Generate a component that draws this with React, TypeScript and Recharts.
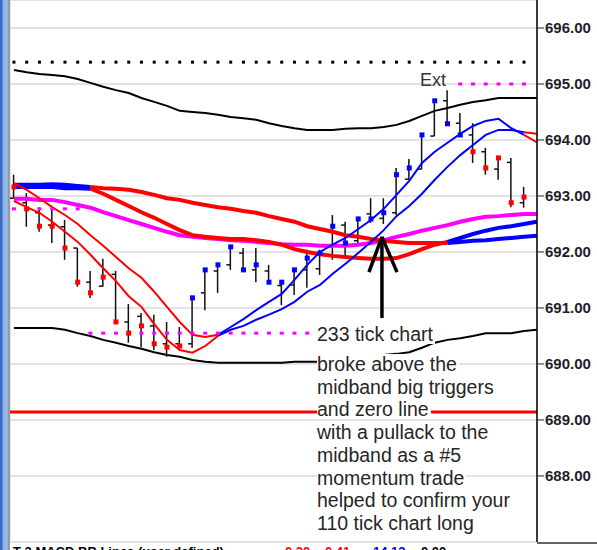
import React from "react";
import { ComposedChart, Line, Bar, Scatter, XAxis, YAxis, CartesianGrid, ReferenceLine } from "recharts";

const RED = "#ff0000";
const BLUE = "#0000ff";
const MAGENTA = "#ff00ff";
const FONT = '"Liberation Sans", Arial, sans-serif';

// bar index (categories)
const barIndex = [0,1,2,3,4,5,6,7,8,9,10,11,12,13,14,15,16,17,18,19,20,21,22,23,24,25,26,27,28,29,30,31,32,33,34,35,36,37,38,39,40,41];

// OHLC values
const barOpen = [692.96, 692.88, 692.70, 692.48, 692.45, 692.07, 691.46, 691.39, 691.60, 690.75, 690.85, 690.68, 690.36, 690.36, 690.36, 691.27, 691.66, 691.77, 691.98, 691.68, 691.66, 691.40, 691.41, 691.68, 691.70, 691.95, 692.48, 692.20, 692.68, 692.60, 692.70, 693.30, 693.48, 694.07, 694.70, 694.30, 694.09, 693.79, 693.48, 693.60, 692.88];
const barHigh = [693.38, 693.05, 692.80, 692.80, 692.57, 692.07, 691.66, 691.88, 691.66, 691.07, 690.91, 690.88, 690.75, 690.66, 691.18, 691.68, 691.77, 692.09, 692.07, 692.07, 691.77, 691.50, 691.68, 692.04, 692.04, 692.66, 692.54, 692.59, 692.96, 692.96, 693.50, 693.66, 694.09, 694.70, 694.89, 694.48, 694.30, 693.86, 693.68, 693.68, 693.16];
const barLow = [692.96, 692.45, 692.36, 692.16, 691.86, 691.38, 691.18, 691.38, 690.75, 690.38, 690.30, 690.25, 690.13, 690.29, 690.29, 690.96, 691.27, 691.68, 691.68, 691.46, 691.46, 691.05, 691.23, 691.36, 691.59, 691.86, 691.91, 692.13, 692.52, 692.50, 692.66, 693.29, 693.48, 694.07, 694.29, 694.09, 693.59, 693.38, 693.29, 692.80, 692.79];
const barClose = [693.16, 692.77, 692.46, 692.46, 692.07, 691.46, 691.27, 691.55, 690.75, 690.55, 690.68, 690.36, 690.30, 690.32, 691.18, 691.68, 691.77, 692.09, 691.68, 691.77, 691.46, 691.46, 691.68, 691.89, 691.98, 692.46, 692.16, 692.59, 692.59, 692.70, 693.38, 693.50, 694.09, 694.70, 694.29, 694.09, 693.79, 693.50, 693.68, 692.88, 692.98];
// +1 = up trend (blue), -1 = down trend (red)
const barTrend = [-1,-1,-1,-1,-1,-1,-1,-1,-1,-1,-1,-1,-1,-1,1,1,1,1,1,1,1,1,1,1,1,1,1,1,1,1,1,1,1,1,1,1,-1,-1,-1,-1,-1];

// indicator lines
const upperBand = [695.25, 695.21, 695.18, 695.16, 695.14, 695.09, 695.02, 694.95, 694.89, 694.84, 694.75, 694.68, 694.61, 694.52, 694.50, 694.48, 694.45, 694.41, 694.39, 694.36, 694.30, 694.25, 694.21, 694.18, 694.18, 694.18, 694.20, 694.21, 694.21, 694.23, 694.27, 694.34, 694.43, 694.52, 694.57, 694.63, 694.68, 694.71, 694.75, 694.75, 694.75, 694.75];
const lowerBand = [690.64, 690.64, 690.64, 690.64, 690.61, 690.55, 690.50, 690.43, 690.38, 690.32, 690.27, 690.21, 690.16, 690.13, 690.07, 690.04, 690.02, 690.02, 690.02, 690.02, 690.02, 690.02, 690.04, 690.04, 690.04, 690.05, 690.07, 690.09, 690.13, 690.16, 690.18, 690.21, 690.29, 690.38, 690.43, 690.46, 690.50, 690.55, 690.55, 690.55, 690.59, 690.61];
const slowMA = [693.20, 693.20, 693.20, 693.21, 693.20, 693.18, 693.16, 693.14, 693.13, 693.11, 693.07, 693.02, 692.96, 692.93, 692.88, 692.84, 692.80, 692.77, 692.73, 692.70, 692.64, 692.59, 692.54, 692.46, 692.41, 692.36, 692.30, 692.27, 692.23, 692.20, 692.18, 692.16, 692.16, 692.16, 692.16, 692.18, 692.20, 692.21, 692.23, 692.25, 692.27, 692.29];
const fastMA = [693.16, 693.16, 693.16, 693.16, 693.14, 693.14, 693.13, 693.04, 692.93, 692.82, 692.71, 692.61, 692.50, 692.39, 692.30, 692.27, 692.25, 692.23, 692.23, 692.21, 692.18, 692.13, 692.05, 692.00, 691.96, 691.93, 691.91, 691.89, 691.88, 691.88, 691.89, 691.96, 692.05, 692.13, 692.18, 692.25, 692.32, 692.38, 692.43, 692.46, 692.50, 692.54];
const midBand = [692.95, 692.95, 692.93, 692.93, 692.89, 692.84, 692.79, 692.71, 692.64, 692.57, 692.50, 692.43, 692.36, 692.30, 692.27, 692.25, 692.23, 692.21, 692.20, 692.18, 692.16, 692.14, 692.13, 692.13, 692.11, 692.11, 692.11, 692.13, 692.16, 692.21, 692.27, 692.32, 692.38, 692.43, 692.48, 692.54, 692.59, 692.63, 692.64, 692.66, 692.68, 692.68];
const trigger1 = [693.23, 693.11, 692.96, 692.80, 692.66, 692.50, 692.30, 692.11, 691.91, 691.71, 691.54, 691.29, 691.02, 690.75, 690.52, 690.48, 690.52, 690.66, 690.80, 690.96, 691.11, 691.25, 691.50, 691.77, 692.00, 692.13, 692.25, 692.41, 692.57, 692.77, 693.02, 693.27, 693.59, 693.79, 693.95, 694.11, 694.25, 694.34, 694.38, 694.21, 694.09, 693.96];
const trigger2 = [692.91, 692.80, 692.70, 692.54, 692.36, 692.18, 691.95, 691.71, 691.48, 691.21, 691.02, 690.71, 690.43, 690.25, 690.20, 690.32, 690.50, 690.61, 690.68, 690.79, 690.88, 690.98, 691.11, 691.29, 691.41, 691.61, 691.79, 691.98, 692.18, 692.39, 692.64, 692.82, 693.04, 693.29, 693.52, 693.73, 693.91, 694.09, 694.18, 694.18, 694.14, 694.11];

// colour-change points (bar indices)
const maBlueEnd = 6;
const maBlueStart = 34;
const trigRedEnd = 16;
const trigRedStart = 40;

// dotted levels
const topDotLevel = 695.39;
const topDotIdx = [0,1,2,3,4,5,6,7,8,9,10,11,12,13,14,15,16,17,18,19,20,21,22,23,24,25,26,27,28,29,30,31,32,33,34,35,36,37,38,39,40];
const extLevel = 695.0;
const extIdx = [35,36,37,38,39,40];
const magUpLevel = 692.77;
const magUpIdx = [0,1,2,3,4,5];
const magLowLevel = 690.55;
const magLowIdx = [6,7,8,9,10,11,12,13,14,15,16,17,18,19,20,21,22,23];
const zeroLine = 689.14;

const priceTicks = [688, 689, 690, 691, 692, 693, 694, 695, 696];
const gridTicks = [4, 9, 14, 19, 24, 29, 34, 39];

// annotation arrow (bar index / price)
const arrowTip = { x: 28.86, y: 692.27 };
const arrowBase = { x: 28.86, y: 690.82 };
const arrowWingL = { x: 27.84, y: 691.64 };
const arrowWingR = { x: 30.04, y: 691.64 };

const noteFirst = "233 tick chart";
const noteLines = ["broke above the", "midband big triggers", "and zero line", "with a pullack to the", "midband as a #5", "momentum trade", "helped to confirm your", "110 tick chart long"];

const seg = (arr: number[], from: number, to: number) => arr.map((v, i) => (i >= from && i <= to ? v : null));

const OhlcShape = (props: any) => {
  const { x, y, width, height, payload } = props;
  if (!payload || payload.hl == null || x == null) return null;
  const cx = x + width / 2;
  const top = Math.min(y, y + height);
  const bot = Math.max(y, y + height);
  const span = payload.h - payload.l;
  const yO = span > 0 ? top + ((payload.h - payload.o) / span) * (bot - top) : top;
  return (
    <g>
      <line x1={cx} x2={cx} y1={top} y2={bot} stroke="#111" strokeWidth={1.5} />
      <line x1={cx - 4} x2={cx} y1={yO} y2={yO} stroke="#111" strokeWidth={1.5} />
    </g>
  );
};

const CloseShape = (props: any) => {
  const { cx, cy, payload } = props;
  if (cx == null || cy == null) return null;
  return <rect x={cx - 2.5} y={cy - 2.5} width={5} height={5} fill={payload.trend > 0 ? BLUE : RED} />;
};

const blackDot = (props: any) => (props.cx == null ? null : <rect x={props.cx - 1.5} y={props.cy - 1.5} width={3} height={3} fill="#000" />);
const magentaDot = (props: any) => (props.cx == null ? null : <rect x={props.cx - 2} y={props.cy - 1.5} width={4} height={3} fill={MAGENTA} />);

export default function App() {
  const aBlue1 = seg(slowMA, 0, maBlueEnd), aRed = seg(slowMA, maBlueEnd, maBlueStart), aBlue2 = seg(slowMA, maBlueStart, 41);
  const bBlue1 = seg(fastMA, 0, maBlueEnd), bRed = seg(fastMA, maBlueEnd, maBlueStart), bBlue2 = seg(fastMA, maBlueStart, 41);
  const t1Red = seg(trigger1, 0, trigRedEnd), t1Blue = seg(trigger1, trigRedEnd, trigRedStart), t1Red2 = seg(trigger1, trigRedStart, 41);
  const t2Red = seg(trigger2, 0, trigRedEnd), t2Blue = seg(trigger2, trigRedEnd, trigRedStart), t2Red2 = seg(trigger2, trigRedStart, 41);

  const rows = barIndex.map((i) => ({
    i,
    hl: i < barOpen.length ? [barLow[i], barHigh[i]] : null,
    o: i < barOpen.length ? barOpen[i] : null,
    h: i < barOpen.length ? barHigh[i] : null,
    l: i < barOpen.length ? barLow[i] : null,
    upper: upperBand[i],
    lower: lowerBand[i],
    mid: midBand[i],
    aBlue1: aBlue1[i], aRed: aRed[i], aBlue2: aBlue2[i],
    bBlue1: bBlue1[i], bRed: bRed[i], bBlue2: bBlue2[i],
    t1Red: t1Red[i], t1Blue: t1Blue[i], t1Red2: t1Red2[i],
    t2Red: t2Red[i], t2Blue: t2Blue[i], t2Red2: t2Red2[i],
  }));
  const closeRows = barClose.map((c, i) => ({ i, c, trend: barTrend[i] }));
  const topDots = topDotIdx.map((i) => ({ i, v: topDotLevel }));
  const extDots = extIdx.map((i) => ({ i, v: extLevel }));
  const magUp = magUpIdx.map((i) => ({ i, v: magUpLevel }));
  const magLow = magLowIdx.map((i) => ({ i, v: magLowLevel }));

  const lines: [string, string, number][] = [
    ["upper", "#000", 2], ["lower", "#000", 2],
    ["mid", MAGENTA, 4],
    ["aBlue1", BLUE, 4], ["aRed", RED, 4], ["aBlue2", BLUE, 4],
    ["bBlue1", BLUE, 4], ["bRed", RED, 4], ["bBlue2", BLUE, 4],
    ["t1Red", RED, 2], ["t1Blue", BLUE, 2], ["t1Red2", RED, 2],
    ["t2Red", RED, 2], ["t2Blue", BLUE, 2], ["t2Red2", RED, 2],
  ];

  const noteStyle: React.CSSProperties = {
    position: "absolute", left: 317, fontFamily: FONT, fontSize: 19.5, lineHeight: "20px",
    color: "#262626", background: "#fff", whiteSpace: "nowrap", paddingRight: 2,
  };

  return (
    <div style={{ position: "absolute", left: 0, top: 0, width: 597, height: 550, background: "#fff", overflow: "hidden" }}>
      <ComposedChart width={597} height={550} data={rows} margin={{ top: 0, right: 0, bottom: 8, left: 10 }}>
        <CartesianGrid stroke="#c8c8c8" strokeWidth={1} />
        <XAxis type="number" dataKey="i" domain={[-0.31, 41.02]} ticks={gridTicks} tick={false} tickLine={false} axisLine={false} height={0} allowDataOverflow />
        <YAxis
          orientation="right"
          type="number"
          domain={[686.82, 696.5]}
          ticks={priceTicks}
          allowDataOverflow
          width={60}
          tickSize={7}
          tickMargin={1}
          axisLine={{ stroke: "#000", strokeWidth: 1.5 }}
          tickLine={{ stroke: "#222" }}
          tickFormatter={(v: number) => v.toFixed(2)}
          tick={{ fill: "#1e1e28", fontSize: 15, fontWeight: 700, fontFamily: FONT }}
        />
        <ReferenceLine y={zeroLine} stroke={RED} strokeWidth={3} />
        <Scatter data={topDots} dataKey="v" shape={blackDot} isAnimationActive={false} />
        <Scatter data={extDots} dataKey="v" shape={magentaDot} isAnimationActive={false} />
        <Scatter data={magUp} dataKey="v" shape={magentaDot} isAnimationActive={false} />
        <Scatter data={magLow} dataKey="v" shape={magentaDot} isAnimationActive={false} />
        <Bar dataKey="hl" barSize={6} shape={OhlcShape} isAnimationActive={false} />
        {lines.map(([k, c, w]) => (
          <Line key={k} type="linear" dataKey={k} stroke={c} strokeWidth={w} dot={false} activeDot={false} connectNulls={false} isAnimationActive={false} />
        ))}
        <Scatter data={closeRows} dataKey="c" shape={CloseShape} isAnimationActive={false} />
        <ReferenceLine segment={[arrowBase, arrowTip]} stroke="#000" strokeWidth={3.5} />
        <ReferenceLine segment={[arrowWingL, arrowTip]} stroke="#000" strokeWidth={3.5} />
        <ReferenceLine segment={[arrowWingR, arrowTip]} stroke="#000" strokeWidth={3.5} />
      </ComposedChart>

      {/* left panel strip */}
      <div style={{ position: "absolute", left: 0, top: 0, width: 10, height: 550, background: "linear-gradient(to right, #3f6cc0 0px, #3f6cc0 2px, #86aee8 3px, #9cbff0 7px, #8a8a8a 9px, #b8b8b8 10px)" }} />
      {/* bottom right separator */}
      <div style={{ position: "absolute", left: 537, top: 542, width: 60, height: 2, background: "#666" }} />

      <div style={{ position: "absolute", left: 420, top: 71, fontFamily: FONT, fontSize: 18, lineHeight: "18px", color: "#333" }}>Ext</div>

      <div style={{ ...noteStyle, top: 324 }}>{noteFirst}</div>
      {noteLines.map((t, k) => (
        <div key={k} style={{ ...noteStyle, top: 354 + k * 22.7 }}>{t}</div>
      ))}

      <div style={{ position: "absolute", left: 10, top: 545, width: 527, height: 5, overflow: "hidden", fontFamily: FONT, fontSize: 13, fontWeight: 700, lineHeight: "13px" }}>
        <span style={{ position: "absolute", left: 3, top: 0, color: "#000" }}>T 3 MACD BB Lines (user defined)</span>
        <span style={{ position: "absolute", left: 275, top: 0, color: RED }}>0.20</span>
        <span style={{ position: "absolute", left: 315, top: 0, color: RED }}>0.41</span>
        <span style={{ position: "absolute", left: 363, top: 0, color: BLUE }}>14.13</span>
        <span style={{ position: "absolute", left: 411, top: 0, color: "#000" }}>0.00</span>
      </div>
    </div>
  );
}
